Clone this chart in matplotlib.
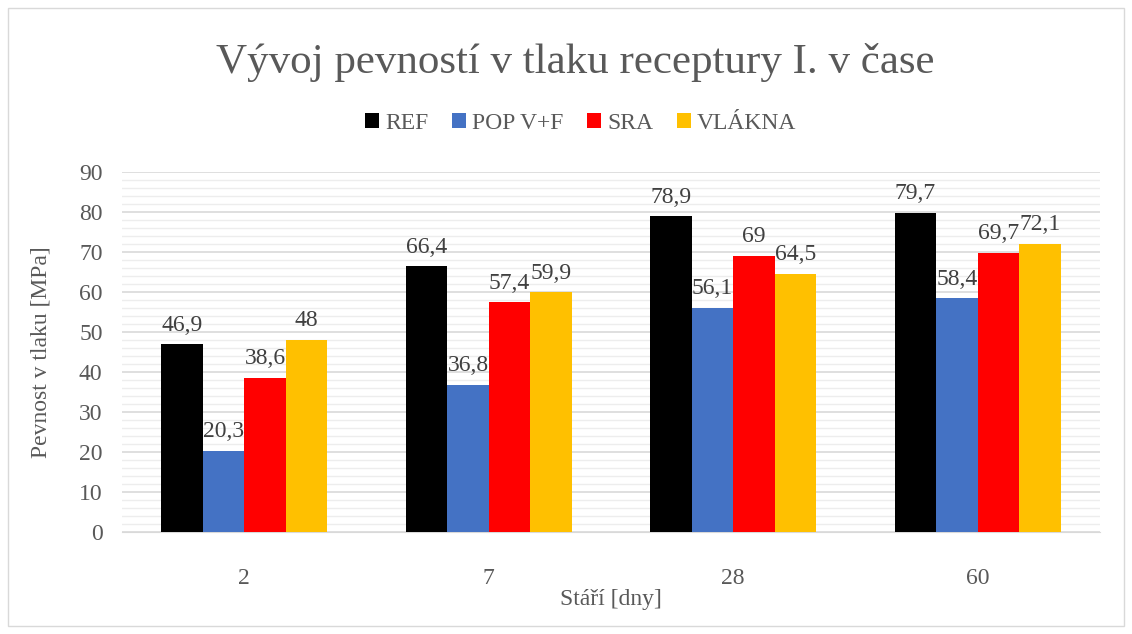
import numpy as np
import matplotlib
matplotlib.use("Agg")
import matplotlib.pyplot as plt
from matplotlib.patches import Rectangle
from matplotlib.ticker import MultipleLocator

plt.rcParams["font.family"] = ["Liberation Serif", "DejaVu Serif"]

# data
ages = ["2", "7", "28", "60"]
ref = [46.9, 66.4, 78.9, 79.7]
pop = [20.3, 36.8, 56.1, 58.4]
sra = [38.6, 57.4, 69.0, 69.7]
vlakna = [48.0, 59.9, 64.5, 72.1]
series = ["REF", "POP V+F", "SRA", "VLÁKNA"]
colors = ["#000000", "#4472C4", "#FF0000", "#FFC000"]

txt = "#595959"

fig = plt.figure(figsize=(11.32, 6.34), dpi=100)
ax = fig.add_axes([0.1078, 0.1609, 0.8639, 0.5678])

x = np.arange(len(ages))
w = 0.17
for i, (name, vals, c) in enumerate(zip(series, [ref, pop, sra, vlakna], colors)):
    pos = x + (i - 1.5) * w
    ax.bar(pos, vals, w, color=c, label=name, zorder=3)
    for p, v in zip(pos, vals):
        lab = f"{v:g}".replace(".", ",")
        ax.text(p, v + 2.2, lab, ha="center", va="bottom", fontsize=17, color="#404040", zorder=4)

ax.set_ylim(0, 90)
ax.set_xlim(-0.5, 3.5)
ax.yaxis.set_major_locator(MultipleLocator(10))
ax.yaxis.set_minor_locator(MultipleLocator(2))
ax.grid(axis="y", which="major", color="#D9D9D9", lw=1.2, zorder=0)
ax.grid(axis="y", which="minor", color="#EDEDED", lw=1.0, zorder=0)
for s in ["top", "right", "left"]:
    ax.spines[s].set_visible(False)
ax.spines["bottom"].set_color("#D9D9D9")
ax.tick_params(axis="both", which="both", length=0, labelsize=17, colors=txt)
ax.tick_params(axis="y", pad=14)
ax.tick_params(axis="x", pad=26)
ax.set_xticks(x)
ax.set_xticklabels(ages)
ax.set_xlabel("Stáří [dny]", fontsize=17, color=txt, labelpad=0)
ax.set_ylabel("Pevnost v tlaku [MPa]", fontsize=17, color=txt, labelpad=20)

fig.text(0.508, 0.902, "Vývoj pevností v tlaku receptury I. v čase", ha="center", va="center",
         fontsize=31, color=txt)
fig.legend(loc="center", bbox_to_anchor=(0.513, 0.805), ncol=4, frameon=False, fontsize=17,
           labelcolor=txt, handlelength=0.6, handleheight=0.6, handletextpad=0.25, columnspacing=1.0)

fig.patches.append(Rectangle((0.007, 0.012), 0.986, 0.976, transform=fig.transFigure,
                             fill=False, edgecolor="#D9D9D9", lw=1))

fig.savefig("out.png", dpi=100)
